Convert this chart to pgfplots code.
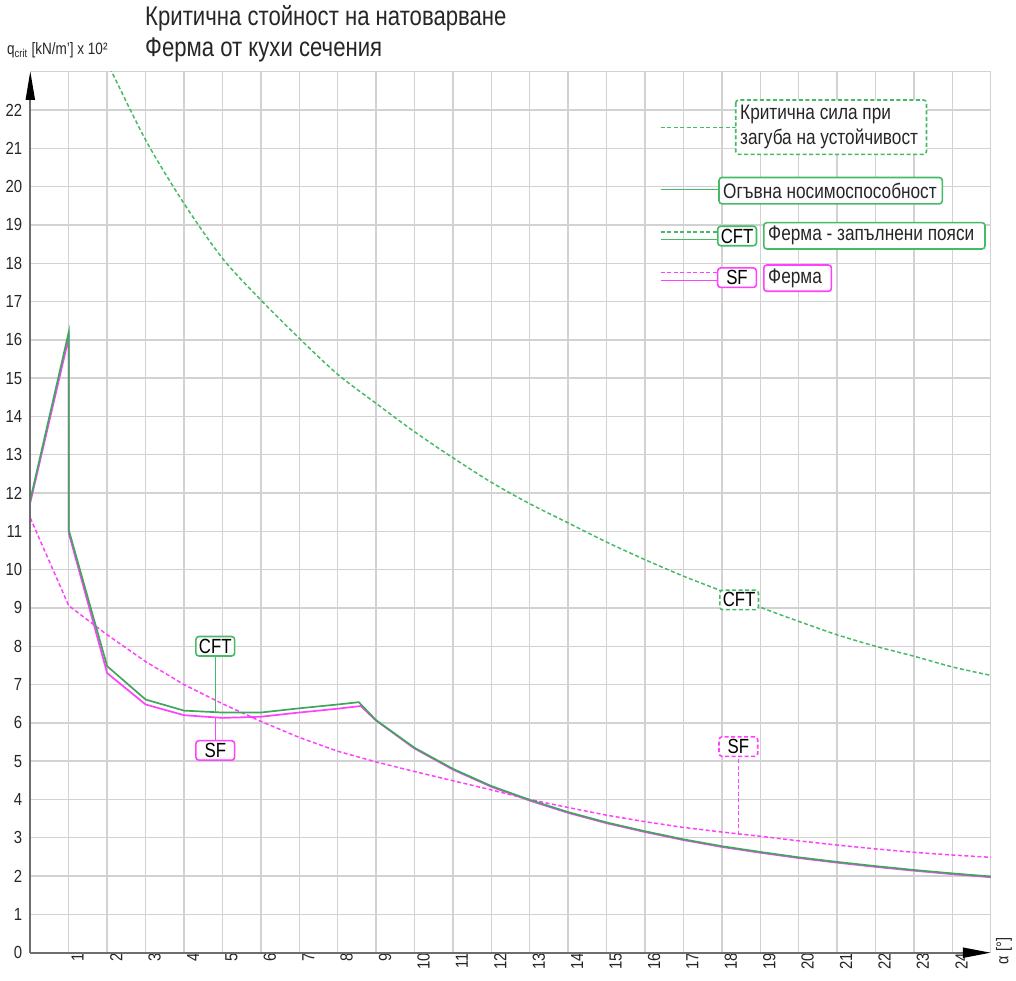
\documentclass[border=0pt]{standalone}
\usepackage{fontspec}
\setmainfont{Liberation Sans}[FakeStretch=0.82]
\newfontfamily\tickfont{Liberation Sans}[FakeStretch=0.85]
\usepackage{pgfplots}
\pgfplotsset{compat=1.18}
\usetikzlibrary{arrows.meta}
\definecolor{cgreen}{RGB}{70,186,102}
\definecolor{cmag}{RGB}{255,64,255}
\definecolor{cgrid}{RGB}{210,210,210}
\definecolor{caxis}{RGB}{110,110,110}

\pgfplotstableread{
x y
2 23.25
3 21.22
4 19.56
5 18.13
6 17.04
7 16.04
8 15.10
9 14.34
10 13.60
11 12.92
12 12.28
13 11.72
14 11.22
15 10.72
16 10.26
17 9.83
18 9.44
19 9.02
20 8.65
21 8.30
22 8.00
23 7.74
24 7.46
25 7.24
}\critCFT

\pgfplotstableread{
x y
0 11.35
1 9.06
2 8.30
3 7.60
4 7.00
5 6.50
6 6.04
7 5.62
8 5.26
9 4.98
10 4.73
11 4.49
12 4.25
13 4.00
14 3.79
15 3.59
16 3.42
17 3.27
18 3.15
19 3.04
20 2.92
21 2.81
22 2.71
23 2.62
24 2.55
25 2.49
}\critSF

\pgfplotstableread{
x y
0 11.82
1 16.20
1 11.04
2 7.48
3 6.61
4 6.32
5 6.27
6 6.27
7 6.38
8 6.48
8.55 6.54
9 6.07
10 5.35
11 4.80
12 4.35
13 3.99
14 3.67
15 3.40
16 3.17
17 2.96
18 2.78
19 2.63
20 2.49
21 2.37
22 2.26
23 2.16
24 2.07
25 1.99
}\bendCFT

\pgfplotstableread{
x y
0 11.75
1 16.05
1 10.96
2 7.30
3 6.48
4 6.20
5 6.13
6 6.16
7 6.27
8 6.37
8.6 6.44
9 6.06
10 5.33
11 4.78
12 4.33
13 3.97
14 3.65
15 3.38
16 3.15
17 2.94
18 2.76
19 2.61
20 2.47
21 2.35
22 2.24
23 2.14
24 2.05
25 1.97
}\bendSF

\begin{document}
\begin{tikzpicture}[x=1pt,y=1pt,
  lbl/.style={fill=white, rounded corners=3pt, line width=1.6pt, inner sep=0pt,
    minimum width=38.7pt, minimum height=19.5pt, font=\fontsize{20.5}{20.5}\selectfont},
  dsh/.style={dash pattern=on 4pt off 2.5pt}]
\useasboundingbox (0,0) rectangle (1016,981);
\begin{axis}[
  at={(30.3pt,28.3pt)}, anchor=south west,
  scale only axis, width=960.5pt, height=881pt,
  xmin=0, xmax=25, ymin=0, ymax=23,
  xtick={1,...,24}, ytick={0,...,22},
  xticklabel={\pgfmathprintnumber{\tick}},
  yticklabel={\pgfmathprintnumber{\tick}},
  grid=major, grid style={cgrid, line width=1.4pt},
  axis line style={draw=none},
  major tick length=0pt,
  tick label style={font=\tickfont\fontsize{17.5}{17.5}\selectfont, text=black!85},
  xticklabel style={rotate=90, anchor=east, inner sep=0pt, yshift=-9pt},
  yticklabel style={anchor=east, inner sep=0pt, xshift=-8pt},
  /pgf/number format/assume math mode=true,
]
\draw[cgrid, line width=1.4pt] (axis cs:25,0) -- (axis cs:25,23) -- (axis cs:0,23);
\addplot[cgreen, line width=1.5pt, dsh, smooth] table {\critCFT};
\addplot[cmag, line width=1.5pt, dsh] table {\critSF};
\addplot[cmag, line width=1.7pt] table {\bendSF};
\addplot[cgreen!90!black, line width=1.7pt] table {\bendCFT};
% annotations
\draw[cgreen, line width=1.5pt] (axis cs:4.815,6.28) -- (axis cs:4.815,7.8);
\node[lbl, draw=cgreen] at (axis cs:4.815,8.0) {CFT};
\draw[cmag, line width=1.5pt] (axis cs:4.815,6.12) -- (axis cs:4.815,5.4);
\node[lbl, draw=cmag] at (axis cs:4.815,5.28) {SF};
\node[lbl, draw=cgreen, dsh] at (axis cs:18.45,9.21) {CFT};
\draw[cmag, line width=1.5pt, dsh] (axis cs:18.43,3.08) -- (axis cs:18.43,5.2);
\node[lbl, draw=cmag, dsh] at (axis cs:18.43,5.38) {SF};
\end{axis}
% axes with arrows
\draw[caxis, line width=2pt, -{Triangle[length=28pt,width=10pt,color=black]}] (30.3,28.3) -- (990.8,28.3);
\draw[caxis, line width=2pt, -{Triangle[length=29pt,width=9pt,color=black]}] (30.3,28.3) -- (30.3,910);
% axis labels
\node[rotate=90, font=\tickfont\fontsize{17}{17}\selectfont, text=black!85] at (1004,30) {α [°]};
\node[anchor=base west, font=\fontsize{16.5}{16.5}\selectfont, text=black!85, inner sep=0pt] at (7,926) {q\textsubscript{crit} [kN/m'] x 10²};
% title
\node[anchor=base west, font=\fontsize{27}{27}\selectfont, text=black!85, inner sep=0pt] at (145,955) {Критична стойност на натоварване};
\node[anchor=base west, font=\fontsize{27}{27}\selectfont, text=black!85, inner sep=0pt] at (145,924) {Ферма от кухи сечения};
% legend
\begin{scope}[font=\fontsize{21}{21}\selectfont]
\draw[cgreen, line width=1.6pt, dsh] (660.5,853.5) -- (735.7,853.5);
\draw[cgreen, line width=1.6pt, dsh, fill=white, rounded corners=3pt] (735.7,881) rectangle (926.5,826.6);
\node[anchor=west, inner sep=0pt, text=black!85] at (740,866.2) {Критична сила при};
\node[anchor=west, inner sep=0pt, text=black!85] at (740,842.2) {загуба на устойчивост};
\draw[cgreen, line width=1.6pt] (660.5,791.5) -- (719,791.5);
\draw[cgreen, line width=1.6pt, fill=white, rounded corners=3pt] (719,803.5) rectangle (942.3,777.1);
\node[anchor=west, inner sep=0pt, text=black!85] at (723,790.3) {Огъвна носимоспособност};
\draw[cgreen, line width=1.6pt, dsh] (660.5,749) -- (718,749);
\draw[cgreen, line width=1.6pt] (660.5,741.5) -- (718,741.5);
\node[lbl, draw=cgreen] at (737.1,745) {CFT};
\draw[cgreen, line width=1.6pt, fill=white, rounded corners=3pt] (763.8,758.3) rectangle (985,732);
\node[anchor=west, inner sep=0pt, text=black!85] at (768,745.2) {Ферма - запълнени пояси};
\draw[cmag, line width=1.6pt, dsh] (660.5,708.5) -- (718,708.5);
\draw[cmag, line width=1.6pt] (660.5,700.5) -- (718,700.5);
\node[lbl, draw=cmag] at (737,703.3) {SF};
\draw[cmag, line width=1.6pt, fill=white, rounded corners=3pt] (763.8,716) rectangle (831.4,689.7);
\node[anchor=west, inner sep=0pt, text=black!85] at (768,702.8) {Ферма};
\end{scope}
\end{tikzpicture}
\end{document}
